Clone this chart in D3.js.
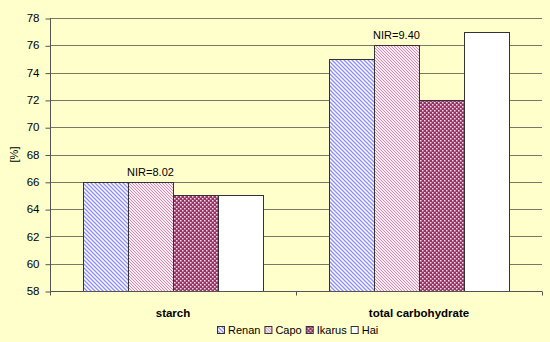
<!DOCTYPE html>
<html><head><meta charset="utf-8">
<script src="https://cdn.jsdelivr.net/npm/d3@7"></script>
<style>body{margin:0;background:#fff}svg{display:block}</style>
</head><body>
<script>
const categories = ["starch", "total carbohydrate"];
const seriesNames = ["Renan", "Capo", "Ikarus", "Hai"];
const Renan = [66, 75];
const Capo = [66, 76];
const Ikarus = [65, 72];
const Hai = [65, 77];
const nirLabels = ["NIR=8.02", "NIR=9.40"];
const yTicks = [58, 60, 62, 64, 66, 68, 70, 72, 74, 76, 78];
const seriesValues = [Renan, Capo, Ikarus, Hai];

const W = 550, H = 342;
const m = {left: 50, right: 8, top: 18, bottom: 51};
const FONT = "Liberation Sans, Arial, sans-serif";
const svg = d3.select("body").append("svg").attr("width", W).attr("height", H);
const defs = svg.append("defs");

// patterns
const p1 = defs.append("pattern").attr("id","pRenan").attr("patternUnits","userSpaceOnUse").attr("width",4).attr("height",4);
p1.append("rect").attr("width",4).attr("height",4).attr("fill","#fff");
p1.append("path").attr("d","M-1,-1 L5,5 M-1,3 L1,5 M3,-1 L5,1").attr("stroke","#8c8cff").attr("stroke-width",1.3);
const p2 = defs.append("pattern").attr("id","pCapo").attr("patternUnits","userSpaceOnUse").attr("width",3).attr("height",3);
p2.append("rect").attr("width",3).attr("height",3).attr("fill","#fbeaf2");
p2.append("path").attr("d","M-1,-1 L4,4 M-1,2 L1,4 M2,-1 L4,1").attr("stroke","#cc8fb0").attr("stroke-width",1);
const p3 = defs.append("pattern").attr("id","pIkarus").attr("patternUnits","userSpaceOnUse").attr("width",4).attr("height",4);
p3.append("rect").attr("width",4).attr("height",4).attr("fill","#993366");
p3.append("rect").attr("x",0).attr("y",0).attr("width",1.5).attr("height",1.5).attr("fill","#f4dde8");
p3.append("rect").attr("x",2).attr("y",2).attr("width",1.5).attr("height",1.5).attr("fill","#f4dde8");
const fills = ["url(#pRenan)","url(#pCapo)","url(#pIkarus)","#ffffff"];

svg.append("rect").attr("width",W).attr("height",H).attr("fill","#ffffcc");

const x0 = d3.scaleBand().domain(categories).range([m.left, W - m.right]).paddingInner(0).paddingOuter(0);
const innerPad = 0.134;
const x1 = d3.scaleBand().domain(seriesNames).range([x0.bandwidth()*innerPad, x0.bandwidth()*(1-innerPad)]).padding(0);
const y = d3.scaleLinear().domain([58, 78]).range([H - m.bottom, m.top]);

// grid
svg.append("g").selectAll("line").data(yTicks.slice(1)).join("line")
  .attr("x1", m.left).attr("x2", W - m.right)
  .attr("y1", d => Math.round(y(d)) + 0.5).attr("y2", d => Math.round(y(d)) + 0.5)
  .attr("stroke", "#77776a").attr("stroke-width", 1);

// bars
const g = svg.append("g");
categories.forEach((c, ci) => {
  seriesNames.forEach((s, si) => {
    const v = seriesValues[si][ci];
    const bx = Math.round(x0(c) + x1(s));
    const bx2 = Math.round(x0(c) + x1(s) + x1.bandwidth());
    g.append("rect")
      .attr("x", bx + 0.5).attr("y", Math.round(y(v)) + 0.5)
      .attr("width", bx2 - bx)
      .attr("height", Math.round(y(58)) - Math.round(y(v)))
      .attr("fill", fills[si]).attr("stroke", "#333").attr("stroke-width", 1);
  });
  const vc = Capo[ci];
  svg.append("text").attr("x", x0(c) + x1("Capo") + x1.bandwidth()/2).attr("y", y(Math.max(Renan[ci], vc)) - 6)
    .attr("text-anchor","middle").attr("font-family",FONT)
    .attr("font-size", 11).attr("fill","#000").text(nirLabels[ci]);
});

// y axis
const ya = svg.append("g").attr("transform", `translate(${m.left + 0.5},0)`)
  .call(d3.axisLeft(y).tickValues(yTicks).tickSize(5).tickPadding(6).tickFormat(d3.format("d")));
ya.selectAll("path,line").attr("stroke","#555550").attr("stroke-width",1);
ya.selectAll("line").attr("transform", "translate(0,0.5)");
ya.select(".domain").attr("d", `M0,${Math.round(y(58))+0.5}V${Math.round(y(78))}`);
ya.selectAll("text").attr("font-family",FONT).attr("font-size",11.5).attr("fill","#000");

// x axis
const xa = svg.append("g").attr("transform", `translate(0,${Math.round(y(58)) + 0.5})`);
xa.append("line").attr("x1", m.left).attr("x2", W - m.right).attr("stroke","#555550");
const bounds = [m.left, m.left + x0.bandwidth(), W - m.right];
xa.selectAll("line.t").data(bounds).join("line").attr("class","t")
  .attr("x1", d => Math.round(d)+0.5).attr("x2", d => Math.round(d)+0.5).attr("y1",0).attr("y2",4).attr("stroke","#555550");
xa.selectAll("text").data(categories).join("text")
  .attr("x", d => x0(d) + x0.bandwidth()/2).attr("y", 25)
  .attr("text-anchor","middle").attr("font-family",FONT)
  .attr("font-weight","bold").attr("font-size",11.5).attr("fill","#000").text(d => d);

// y title
svg.append("text").attr("transform", `translate(18,${(y(58)+y(78))/2}) rotate(-90)`)
  .attr("text-anchor","middle").attr("font-family",FONT)
  .attr("font-size",11).attr("fill","#000").text("[%]");

// legend
const lg = svg.append("g").attr("transform","translate(217,326)");
let lx = 0;
seriesNames.forEach((s, i) => {
  const it = lg.append("g").attr("transform", `translate(${lx},0)`);
  it.append("rect").attr("x",0.5).attr("y",0.5).attr("width",7).attr("height",7)
    .attr("fill", fills[i]).attr("stroke","#333");
  const t = it.append("text").attr("x",11).attr("y",8).attr("font-family",FONT)
    .attr("font-size",11).attr("fill","#000").text(s);
  lx += 11 + t.node().getComputedTextLength() + 4;
});
</script>
</body></html>
